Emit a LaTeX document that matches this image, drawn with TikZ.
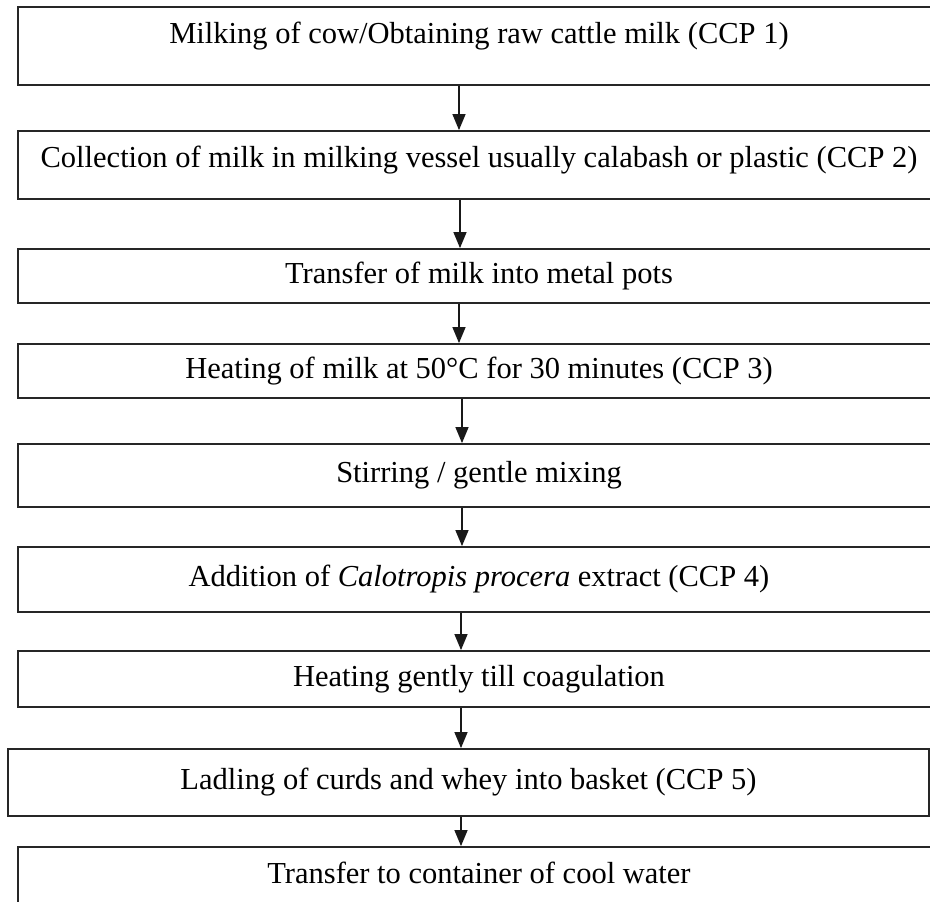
\documentclass[tikz,border=0pt]{standalone}
\usepackage{fontspec}
\setmainfont{Liberation Serif}
\usetikzlibrary{arrows.meta}

\tikzset{
  stage/.style={draw=black!85, line width=1.8pt, rectangle, inner sep=4pt,
    text height=20pt, text depth=6pt, font=\fontsize{30.5}{35}\selectfont},
  flow/.style={draw=black!90, line width=1.3pt, -{Triangle[length=16pt,width=13pt]}}
}

\begin{document}
\begin{tikzpicture}[x=1pt,y=-1pt]
  \useasboundingbox (0,0) rectangle (930,902);
  % process stages, top to bottom
  \node[stage, minimum width=922, minimum height=78, text depth=26pt] (b1) at (479,46)
    {Milking of cow/Obtaining raw cattle milk (CCP 1)};
  \node[stage, minimum width=922, minimum height=68, text depth=16pt] (b2) at (479,165)
    {Collection of milk in milking vessel usually calabash or plastic (CCP 2)};
  \node[stage, minimum width=922, minimum height=54] (b3) at (479,276)
    {Transfer of milk into metal pots};
  \node[stage, minimum width=922, minimum height=54] (b4) at (479,371)
    {Heating of milk at 50°C for 30 minutes (CCP 3)};
  \node[stage, minimum width=922, minimum height=63] (b5) at (479,475.5)
    {Stirring / gentle mixing};
  \node[stage, minimum width=922, minimum height=65] (b6) at (479,579.5)
    {Addition of \textit{Calotropis procera} extract (CCP 4)};
  \node[stage, minimum width=922, minimum height=56] (b7) at (479,679)
    {Heating gently till coagulation};
  \node[stage, minimum width=921, minimum height=67] (b8) at (468.5,782.5)
    {Ladling of curds and whey into basket (CCP 5)};
  \node[stage, minimum width=922, minimum height=58] (b9) at (479,876)
    {Transfer to container of cool water};

  % arrows between stages
  \foreach \a/\b/\x in {b1/b2/459, b2/b3/460, b3/b4/459, b4/b5/462,
                        b5/b6/462, b6/b7/461, b7/b8/461, b8/b9/461}
    \draw[flow] (\a.south -| \x,0) -- (\b.north -| \x,0);
\end{tikzpicture}
\end{document}
